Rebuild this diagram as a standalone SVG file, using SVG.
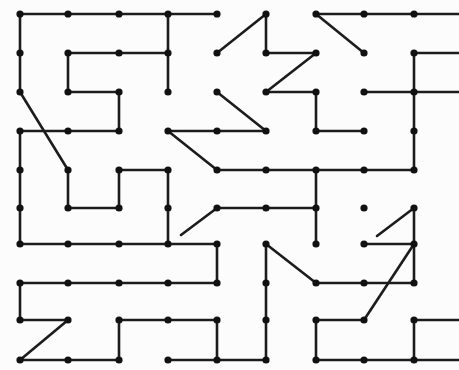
<svg xmlns="http://www.w3.org/2000/svg" width="459" height="370" viewBox="0 0 459 370">
<style>
.e{fill:none;stroke:#1c1c1c;stroke-width:2.6;stroke-linecap:round;stroke-linejoin:round}
.d{fill:#111}
</style>
<rect width="459" height="370" fill="#fdfcfd"/>
<g id="connectors" class="e">
<path d="M20,14 H217"/>
<path d="M20,14 V92"/>
<path d="M68,53 H168"/>
<path d="M68,53 V92 H119 V131"/>
<path d="M168,14 V92"/>
<path d="M20,92 L68,170"/>
<path d="M20,131 H119"/>
<path d="M20,131 V244"/>
<path d="M68,170 V208 H119 V170 H168 V244"/>
<path d="M168,131 H266"/>
<path d="M168,131 L217,170"/>
<path d="M217,92 L266,131"/>
<path d="M217,53 L266,14 V53 H316 L266,92 H316 V131 H364"/>
<path d="M316,14 H459"/>
<path d="M316,14 L364,53"/>
<path d="M459,53 H414 V170"/>
<path d="M364,92 H459"/>
<path d="M217,170 H414"/>
<path d="M316,170 V244"/>
<path d="M181,235 L217,208 H316"/>
<path d="M20,244 H217 V283 H20 V320 H68 L20,360 H119 V320 H217 V360"/>
<path d="M168,360 H266"/>
<path d="M266,244 L316,283 H414"/>
<path d="M266,244 V360"/>
<path d="M377,236 L414,208 V283"/>
<path d="M364,244 H414"/>
<path d="M414,244 L364,320 H316 V360 H459"/>
<path d="M414,320 V360"/>
<path d="M414,320 H459"/>
</g>
<g id="n0-0"><circle class="d" cx="20" cy="14" r="3.6"/></g>
<g id="n1-0"><circle class="d" cx="68" cy="14" r="3.6"/></g>
<g id="n2-0"><circle class="d" cx="119" cy="14" r="3.6"/></g>
<g id="n3-0"><circle class="d" cx="168" cy="14" r="3.6"/></g>
<g id="n4-0"><circle class="d" cx="217" cy="14" r="3.6"/></g>
<g id="n5-0"><circle class="d" cx="266" cy="14" r="3.6"/></g>
<g id="n6-0"><circle class="d" cx="316" cy="14" r="3.6"/></g>
<g id="n7-0"><circle class="d" cx="364" cy="14" r="3.6"/></g>
<g id="n8-0"><circle class="d" cx="414" cy="14" r="3.6"/></g>
<g id="n0-1"><circle class="d" cx="20" cy="53" r="3.6"/></g>
<g id="n1-1"><circle class="d" cx="68" cy="53" r="3.6"/></g>
<g id="n2-1"><circle class="d" cx="119" cy="53" r="3.6"/></g>
<g id="n3-1"><circle class="d" cx="168" cy="53" r="3.6"/></g>
<g id="n4-1"><circle class="d" cx="217" cy="53" r="3.6"/></g>
<g id="n5-1"><circle class="d" cx="266" cy="53" r="3.6"/></g>
<g id="n6-1"><circle class="d" cx="316" cy="53" r="3.6"/></g>
<g id="n7-1"><circle class="d" cx="364" cy="53" r="3.6"/></g>
<g id="n8-1"><circle class="d" cx="414" cy="53" r="3.6"/></g>
<g id="n0-2"><circle class="d" cx="20" cy="92" r="3.6"/></g>
<g id="n1-2"><circle class="d" cx="68" cy="92" r="3.6"/></g>
<g id="n2-2"><circle class="d" cx="119" cy="92" r="3.6"/></g>
<g id="n3-2"><circle class="d" cx="168" cy="92" r="3.6"/></g>
<g id="n4-2"><circle class="d" cx="217" cy="92" r="3.6"/></g>
<g id="n5-2"><circle class="d" cx="266" cy="92" r="3.6"/></g>
<g id="n6-2"><circle class="d" cx="316" cy="92" r="3.6"/></g>
<g id="n7-2"><circle class="d" cx="364" cy="92" r="3.6"/></g>
<g id="n8-2"><circle class="d" cx="414" cy="92" r="3.6"/></g>
<g id="n0-3"><circle class="d" cx="20" cy="131" r="3.6"/></g>
<g id="n1-3"><circle class="d" cx="68" cy="131" r="3.6"/></g>
<g id="n2-3"><circle class="d" cx="119" cy="131" r="3.6"/></g>
<g id="n3-3"><circle class="d" cx="168" cy="131" r="3.6"/></g>
<g id="n4-3"><circle class="d" cx="217" cy="131" r="3.6"/></g>
<g id="n5-3"><circle class="d" cx="266" cy="131" r="3.6"/></g>
<g id="n6-3"><circle class="d" cx="316" cy="131" r="3.6"/></g>
<g id="n7-3"><circle class="d" cx="364" cy="131" r="3.6"/></g>
<g id="n8-3"><circle class="d" cx="414" cy="131" r="3.6"/></g>
<g id="n0-4"><circle class="d" cx="20" cy="170" r="3.6"/></g>
<g id="n1-4"><circle class="d" cx="68" cy="170" r="3.6"/></g>
<g id="n2-4"><circle class="d" cx="119" cy="170" r="3.6"/></g>
<g id="n3-4"><circle class="d" cx="168" cy="170" r="3.6"/></g>
<g id="n4-4"><circle class="d" cx="217" cy="170" r="3.6"/></g>
<g id="n5-4"><circle class="d" cx="266" cy="170" r="3.6"/></g>
<g id="n6-4"><circle class="d" cx="316" cy="170" r="3.6"/></g>
<g id="n7-4"><circle class="d" cx="364" cy="170" r="3.6"/></g>
<g id="n8-4"><circle class="d" cx="414" cy="170" r="3.6"/></g>
<g id="n0-5"><circle class="d" cx="20" cy="208" r="3.6"/></g>
<g id="n1-5"><circle class="d" cx="68" cy="208" r="3.6"/></g>
<g id="n2-5"><circle class="d" cx="119" cy="208" r="3.6"/></g>
<g id="n3-5"><circle class="d" cx="168" cy="208" r="3.6"/></g>
<g id="n4-5"><circle class="d" cx="217" cy="208" r="3.6"/></g>
<g id="n5-5"><circle class="d" cx="266" cy="208" r="3.6"/></g>
<g id="n6-5"><circle class="d" cx="316" cy="208" r="3.6"/></g>
<g id="n7-5"><circle class="d" cx="364" cy="208" r="3.6"/></g>
<g id="n8-5"><circle class="d" cx="414" cy="208" r="3.6"/></g>
<g id="n0-6"><circle class="d" cx="20" cy="244" r="3.6"/></g>
<g id="n1-6"><circle class="d" cx="68" cy="244" r="3.6"/></g>
<g id="n2-6"><circle class="d" cx="119" cy="244" r="3.6"/></g>
<g id="n3-6"><circle class="d" cx="168" cy="244" r="3.6"/></g>
<g id="n4-6"><circle class="d" cx="217" cy="244" r="3.6"/></g>
<g id="n5-6"><circle class="d" cx="266" cy="244" r="3.6"/></g>
<g id="n6-6"><circle class="d" cx="316" cy="244" r="3.6"/></g>
<g id="n7-6"><circle class="d" cx="364" cy="244" r="3.6"/></g>
<g id="n8-6"><circle class="d" cx="414" cy="244" r="3.6"/></g>
<g id="n0-7"><circle class="d" cx="20" cy="283" r="3.6"/></g>
<g id="n1-7"><circle class="d" cx="68" cy="283" r="3.6"/></g>
<g id="n2-7"><circle class="d" cx="119" cy="283" r="3.6"/></g>
<g id="n3-7"><circle class="d" cx="168" cy="283" r="3.6"/></g>
<g id="n4-7"><circle class="d" cx="217" cy="283" r="3.6"/></g>
<g id="n5-7"><circle class="d" cx="266" cy="283" r="3.6"/></g>
<g id="n6-7"><circle class="d" cx="316" cy="283" r="3.6"/></g>
<g id="n7-7"><circle class="d" cx="364" cy="283" r="3.6"/></g>
<g id="n8-7"><circle class="d" cx="414" cy="283" r="3.6"/></g>
<g id="n0-8"><circle class="d" cx="20" cy="320" r="3.6"/></g>
<g id="n1-8"><circle class="d" cx="68" cy="320" r="3.6"/></g>
<g id="n2-8"><circle class="d" cx="119" cy="320" r="3.6"/></g>
<g id="n3-8"><circle class="d" cx="168" cy="320" r="3.6"/></g>
<g id="n4-8"><circle class="d" cx="217" cy="320" r="3.6"/></g>
<g id="n5-8"><circle class="d" cx="266" cy="320" r="3.6"/></g>
<g id="n6-8"><circle class="d" cx="316" cy="320" r="3.6"/></g>
<g id="n7-8"><circle class="d" cx="364" cy="320" r="3.6"/></g>
<g id="n8-8"><circle class="d" cx="414" cy="320" r="3.6"/></g>
<g id="n0-9"><circle class="d" cx="20" cy="360" r="3.6"/></g>
<g id="n1-9"><circle class="d" cx="68" cy="360" r="3.6"/></g>
<g id="n2-9"><circle class="d" cx="119" cy="360" r="3.6"/></g>
<g id="n3-9"><circle class="d" cx="168" cy="360" r="3.6"/></g>
<g id="n4-9"><circle class="d" cx="217" cy="360" r="3.6"/></g>
<g id="n5-9"><circle class="d" cx="266" cy="360" r="3.6"/></g>
<g id="n6-9"><circle class="d" cx="316" cy="360" r="3.6"/></g>
<g id="n7-9"><circle class="d" cx="364" cy="360" r="3.6"/></g>
<g id="n8-9"><circle class="d" cx="414" cy="360" r="3.6"/></g>
</svg>
